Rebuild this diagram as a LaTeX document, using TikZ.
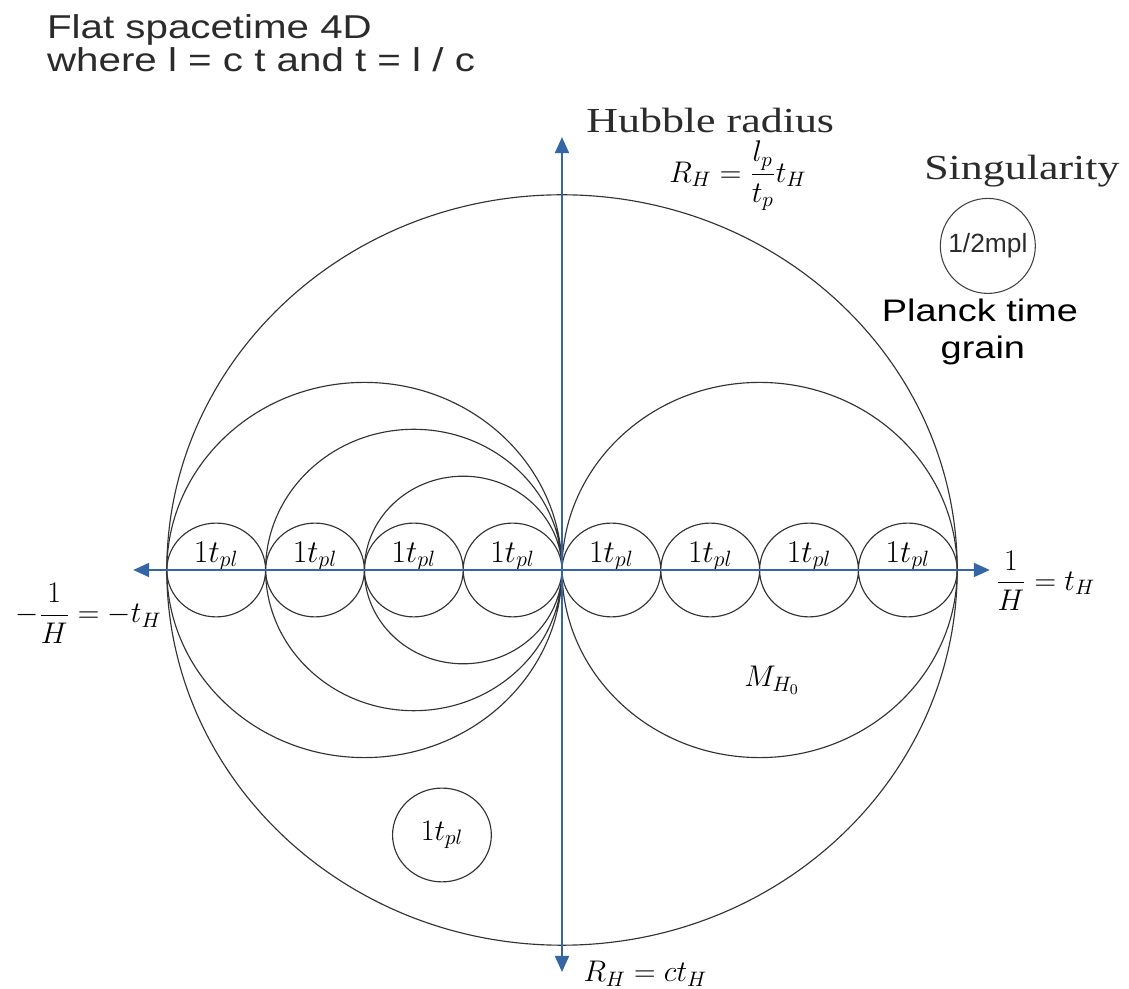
\RequirePackage{fix-cm}
\documentclass[tikz,border=0pt]{standalone}
\usepackage{amsmath}
\usepackage{fontspec}
\newfontfamily\grainsans[FakeStretch=1.22]{Liberation Sans}
\newfontfamily\grainplain{Liberation Sans}
\newfontfamily\grainserif[FakeStretch=1.25]{Liberation Serif}
\usepackage{xcolor}
\definecolor{axisblue}{HTML}{3465A4}
\definecolor{inkgray}{HTML}{2B2B2B}
\usepackage{tikz}
\usetikzlibrary{positioning,arrows.meta}

\begin{document}
\begin{tikzpicture}[
  x=0.988cm, y=0.938cm,
  ring/.style ={draw=black!80,line width=0.65pt},
  axis/.style ={{Triangle[length=0.32cm,width=0.28cm]}-{Triangle[length=0.32cm,width=0.28cm]},
                draw=axisblue,line width=1.1pt},
  tpl/.style  ={font=\fontsize{18}{21}\selectfont,inner sep=0pt,anchor=base},
  mlabel/.style={font=\fontsize{17}{20}\selectfont,inner sep=0pt},
  headline/.style={font=\grainserif\fontsize{20}{24}\selectfont,text=inkgray,
                inner sep=0pt,anchor=base},
  note/.style ={font=\grainsans\fontsize{18.8}{22}\selectfont,text=inkgray,
                inner sep=0pt,anchor=base west},
  grainlbl/.style={font=\grainsans\fontsize{17.7}{21}\selectfont,text=black,
                inner sep=0pt,anchor=base}
]
\useasboundingbox (-11.24cm,-8.38cm) rectangle (11.34cm,11.40cm);

\coordinate (O)    at (0,0);
\coordinate (xneg) at (-8.68,0);
\coordinate (xpos) at (8.66,0);
\coordinate (ypos) at (0,9.23);
\coordinate (yneg) at (0,-8.57);

% Hubble sphere and the nested spheres
\draw[ring] (O) circle (8);
\draw[ring] (-4,0) circle (4) (-3,0) circle (3) (-2,0) circle (2) (4,0) circle (4);

% Planck time grains on the axis
\draw[ring] (-7,0) circle (1) (-5,0) circle (1) (-3,0) circle (1) (-1,0) circle (1)
            (1,0) circle (1) (3,0) circle (1) (5,0) circle (1) (7,0) circle (1);
\draw[ring] (-2.43,-5.65) circle (1);

\node[tpl] (g1) at (-7,0.17) {$1t_{pl}$};
\node[tpl] (g2) at (-5,0.17) {$1t_{pl}$};
\node[tpl] (g3) at (-3,0.17) {$1t_{pl}$};
\node[tpl] (g4) at (-1,0.17) {$1t_{pl}$};
\node[tpl] (g5) at (1,0.17)  {$1t_{pl}$};
\node[tpl] (g6) at (3,0.17)  {$1t_{pl}$};
\node[tpl] (g7) at (5,0.17)  {$1t_{pl}$};
\node[tpl] (g8) at (7,0.17)  {$1t_{pl}$};
\node[mlabel] (lone) at (-2.43,-5.65) {$1t_{pl}$};
\node[mlabel] (mh)   at (4.25,-2.35)  {$M_{H_0}$};

% axes
\draw[axis] (xneg) -- (xpos);
\draw[axis] (yneg) -- (ypos);

\node[mlabel,anchor=west] (tpos) at (8.77,-0.23) {$\dfrac{1}{H}=t_H$};
\node[mlabel,anchor=east] (tneg) at (-8.10,-0.92) {$-\dfrac{1}{H}=-t_H$};
\node[mlabel,anchor=base west] (rc) at (0.43,-8.78) {$R_H=ct_H$};
\node[mlabel] (rh) at (3.56,8.40) {$R_H=\dfrac{l_p}{t_p}t_H$};
\node[headline] (hubble) at (3.0,9.32) {Hubble radius};

% singularity
\node[headline] (singlbl) at (9.31,8.32) {Singularity};
\node[circle,draw=black!75,line width=0.6pt,minimum size=1.9cm,inner sep=0pt,
      font=\grainplain\fontsize{15}{18}\selectfont,text=inkgray] (sing) at (8.62,6.91) {1/2mpl};
\node[grainlbl] (planck) at (8.46,5.29) {Planck time};
\node[grainlbl] (grain)  at (8.52,4.52) {grain};

\node[note] (flat)  at (-10.43,11.33) {Flat spacetime 4D};
\node[note] (where) at (-10.43,10.62) {where l = c t and t = l / c};
\end{tikzpicture}
\end{document}
